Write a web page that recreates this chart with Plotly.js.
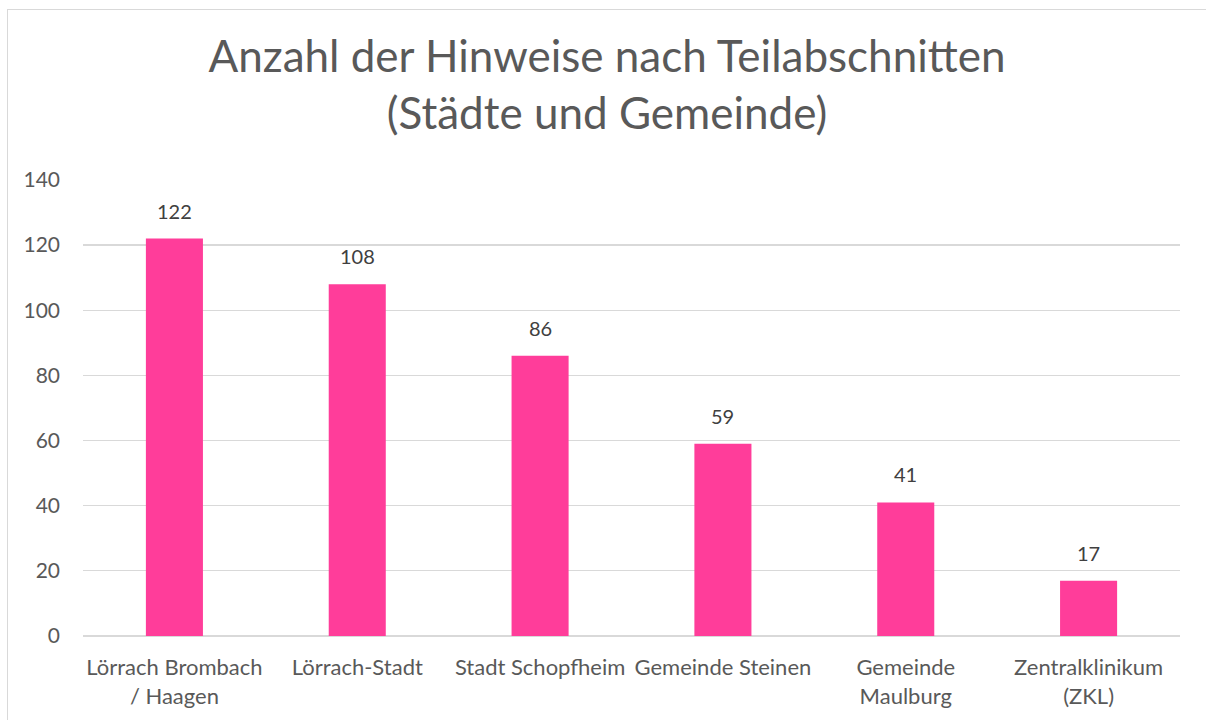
<!DOCTYPE html>
<html>
<head>
<meta charset="utf-8">
<script src="https://cdn.plot.ly/plotly-3.0.1.min.js"></script>
<style>
  html, body { margin: 0; padding: 0; overflow: hidden; background: #fff; }
  #chart { position: absolute; left: 0; top: 0; width: 1206px; height: 720px; }
  #frame { position: absolute; left: 7px; top: 9px; width: 1210px; height: 730px;
           border: 1px solid #d9d9d9; pointer-events: none; box-sizing: border-box; }
</style>
</head>
<body>
<div id="chart"></div>
<div id="frame"></div>
<script>
const categories = ["Lörrach Brombach / Haagen", "Lörrach-Stadt", "Stadt Schopfheim", "Gemeinde Steinen", "Gemeinde Maulburg", "Zentralklinikum (ZKL)"];
const tickLabels = ["Lörrach Brombach<br>/ Haagen", "Lörrach-Stadt", "Stadt Schopfheim", "Gemeinde Steinen", "Gemeinde<br>Maulburg", "Zentralklinikum<br>(ZKL)"];
const values = [122, 108, 86, 59, 41, 17];
const yTicks = [0, 20, 40, 60, 80, 100, 120, 140];

const FONT = "Lato, 'Open Sans', sans-serif";

const trace = {
  type: "bar",
  x: categories,
  y: values,
  marker: { color: "#ff3d9a" },
  hoverinfo: "x+y"
};

const annotations = categories.map((c, i) => ({
  x: c, y: values[i], xref: "x", yref: "y",
  text: String(values[i]),
  showarrow: false, yanchor: "bottom", yshift: 14,
  font: { family: FONT, size: 20, color: "#404040" }
}));

const layout = {
  width: 1206, height: 720,
  margin: { l: 83, r: 26, t: 179, b: 84 },
  paper_bgcolor: "#ffffff",
  plot_bgcolor: "#ffffff",
  showlegend: false,
  bargap: 0.688,
  title: {
    text: "Anzahl der Hinweise nach Teilabschnitten<br>(Städte und Gemeinde)",
    x: 607 / 1206, xref: "container", xanchor: "center",
    y: 1 - 72 / 720, yref: "container", yanchor: "top",
    font: { family: FONT, size: 44, color: "#595959" }
  },
  xaxis: {
    type: "category",
    tickmode: "array",
    tickvals: categories,
    ticktext: tickLabels,
    showgrid: false,
    showline: false,
    zeroline: false,
    ticks: "",
    ticklabelstandoff: 16,
    tickfont: { family: FONT, size: 22, color: "#595959" }
  },
  yaxis: {
    range: [0, 140.3],
    tickmode: "array",
    tickvals: yTicks,
    ticktext: yTicks.map(String),
    showgrid: true,
    gridcolor: "#d9d9d9",
    gridwidth: 1.3,
    zeroline: true,
    zerolinecolor: "#d9d9d9",
    zerolinewidth: 1.3,
    showline: false,
    ticks: "",
    ticklabelstandoff: 22,
    tickfont: { family: FONT, size: 21, color: "#595959" }
  },
  annotations: annotations
};

Plotly.newPlot("chart", [trace], layout, { displayModeBar: false, staticPlot: true });
</script>
</body>
</html>
